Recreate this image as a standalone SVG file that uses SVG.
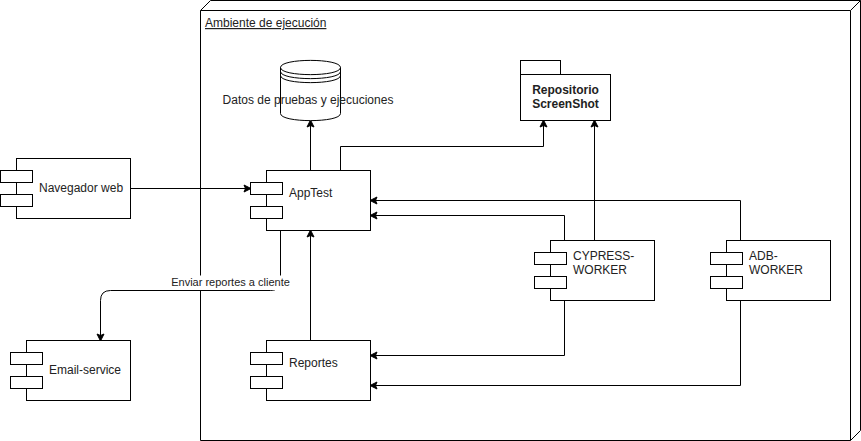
<svg xmlns="http://www.w3.org/2000/svg" width="861" height="441" viewBox="0 0 861 441">
<defs>
<style>
.s{fill:#fff;stroke:#000;stroke-width:1}
.n{fill:none;stroke:#000;stroke-width:1}
text{font-family:"Liberation Sans",Arial,sans-serif;font-size:12px;fill:#222}
.c{text-anchor:middle}
.b{font-weight:bold}
.e{font-size:11px}
.l{fill:none;stroke:#000;stroke-width:1;marker-end:url(#a)}
</style>
<marker id="a" markerUnits="userSpaceOnUse" markerWidth="10" markerHeight="10" viewBox="-8 -5 10 10" refX="-1" refY="0" orient="auto">
<path d="M0,0L-7,-3.5L-5.5,0L-7,3.5Z" fill="#000" stroke="#000" stroke-width="1"/>
</marker>
<g id="ports">
<rect class="s" x="0" y="12" width="32" height="12"/>
<rect class="s" x="0" y="36" width="32" height="12"/>
</g>
</defs>
<rect width="861" height="441" fill="#fff"/>
<g id="ambiente">
<path class="s" d="M200.5,10.5L210.5,0.5H860.5V430.5L850.5,440.5H200.5Z"/>
<path class="n" d="M200.5,10.5H850.5V440.5M850.5,10.5L860.5,0.5"/>
<text x="205" y="27" text-decoration="underline">Ambiente de ejecución</text>
</g>
<g id="connectors">
<path class="l" d="M130.5,188.5H250"/>
<path class="l" d="M310.5,170.5V121"/>
<path class="l" d="M340.5,170.5V146.5H543.5V121"/>
<path class="l" d="M594.5,240.5V121"/>
<path class="l" d="M740.5,240.5V200.5H371"/>
<path class="l" d="M564.5,240.5V215.5H371"/>
<path class="l" d="M564.5,300.5V355.5H371"/>
<path class="l" d="M740.5,300.5V385.5H371"/>
<path class="l" d="M310.5,340.5V231"/>
<path class="l" d="M280.5,230.5V280.5Q280.5,290.5 270.5,290.5H110.5Q100.5,290.5 100.5,300.5V340"/>
<rect x="171" y="275.5" width="119" height="14.5" fill="#fff"/>
<text class="c e" x="230.5" y="286">Enviar reportes a cliente</text>
</g>
<g id="datos">
<path class="s" d="M280.5,67.5C280.5,58 340.5,58 340.5,67.5V113.5C340.5,123 280.5,123 280.5,113.5Z"/>
<path class="n" d="M280.5,67.5C280.5,77 340.5,77 340.5,67.5M280.5,71.5C280.5,81 340.5,81 340.5,71.5M280.5,75.5C280.5,85 340.5,85 340.5,75.5"/>
<text class="c" x="308" y="104">Datos de pruebas y ejecuciones</text>
</g>
<g id="repositorio">
<rect class="s" x="520.5" y="60.5" width="40" height="14"/>
<rect class="s" x="520.5" y="74.5" width="90" height="46"/>
<text class="c b" x="565.5" y="93.5">Repositorio</text>
<text class="c b" x="565.5" y="107.5">ScreenShot</text>
</g>
<g id="navegador">
<rect class="s" x="16.5" y="158.5" width="114" height="60"/>
<use href="#ports" x="0.5" y="158.5"/>
<text x="39" y="192">Navegador web</text>
</g>
<g id="apptest">
<rect class="s" x="266.5" y="170.5" width="104" height="60"/>
<use href="#ports" x="250.5" y="170.5"/>
<text x="289" y="197">AppTest</text>
</g>
<g id="reportes">
<rect class="s" x="266.5" y="340.5" width="104" height="60"/>
<use href="#ports" x="250.5" y="340.5"/>
<text x="289" y="367">Reportes</text>
</g>
<g id="email">
<rect class="s" x="26.5" y="340.5" width="104" height="60"/>
<use href="#ports" x="10.5" y="340.5"/>
<text x="49" y="374">Email-service</text>
</g>
<g id="cypress">
<rect class="s" x="550.5" y="240.5" width="104" height="60"/>
<use href="#ports" x="534.5" y="240.5"/>
<text x="573" y="260">CYPRESS-</text>
<text x="573" y="274">WORKER</text>
</g>
<g id="adb">
<rect class="s" x="726.5" y="240.5" width="104" height="60"/>
<use href="#ports" x="710.5" y="240.5"/>
<text x="749" y="260">ADB-</text>
<text x="749" y="274">WORKER</text>
</g>
</svg>
